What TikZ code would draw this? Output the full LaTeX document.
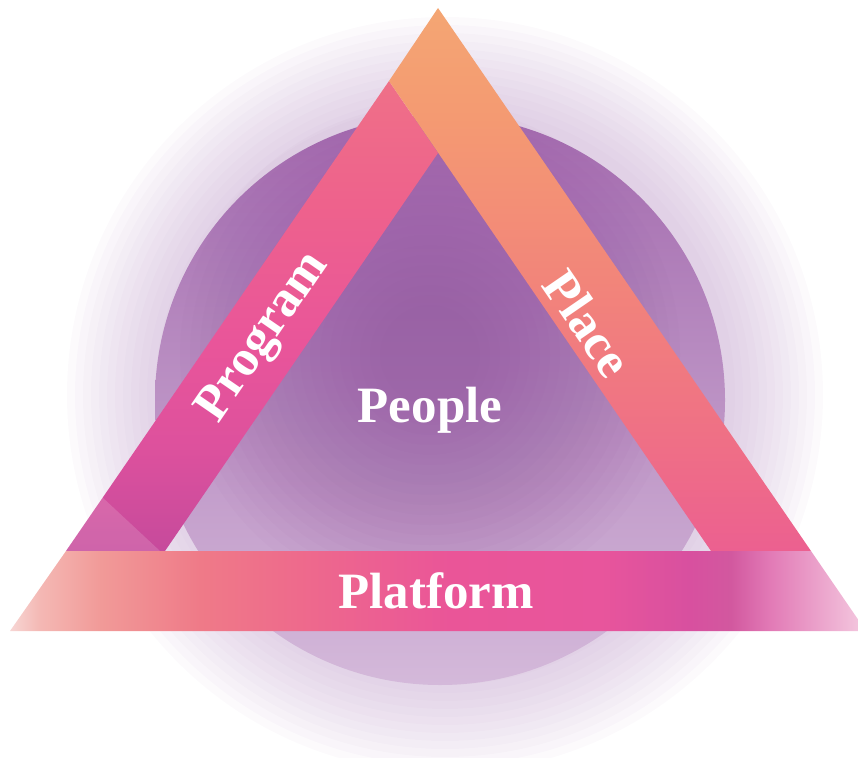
\documentclass[tikz,border=0pt]{standalone}
\usepackage{fontspec}
\setmainfont{Liberation Serif}
\usepackage{tikz}

\definecolor{blobdark}{HTML}{8A4A98}
\definecolor{blobtop}{HTML}{A36AAE}
\definecolor{blobmid}{HTML}{AD79B7}
\definecolor{blobpale}{HTML}{D4B9DA}
\definecolor{blobhaze}{HTML}{B690C2}
\definecolor{placedeep}{HTML}{EC6090}
\definecolor{placepink}{HTML}{EF6F86}
\definecolor{placesalmon}{HTML}{F2857A}
\definecolor{placepeach}{HTML}{F49A72}
\definecolor{placeorange}{HTML}{F4A673}
\definecolor{progbottom}{HTML}{C64A9C}
\definecolor{proglow}{HTML}{DD519D}
\definecolor{progmid}{HTML}{E9559A}
\definecolor{proghigh}{HTML}{EE628C}
\definecolor{progtop}{HTML}{EF7088}
\definecolor{platA}{HTML}{F7D6D4}
\definecolor{platB}{HTML}{F4B8B4}
\definecolor{platC}{HTML}{F19A98}
\definecolor{platD}{HTML}{EF7A88}
\definecolor{platE}{HTML}{EE6A8C}
\definecolor{platF}{HTML}{EA5598}
\definecolor{platG}{HTML}{E8559C}
\definecolor{platH}{HTML}{D8509F}
\definecolor{platI}{HTML}{D2589F}
\definecolor{platJ}{HTML}{E27AB6}
\definecolor{platK}{HTML}{F4CAE0}

\pgfdeclareverticalshading{placeshade}{100bp}{color(0bp)=(placedeep); color(25bp)=(placedeep); color(35bp)=(placepink); color(50bp)=(placesalmon); color(65bp)=(placepeach); color(75bp)=(placeorange); color(100bp)=(placeorange)}
\pgfdeclareverticalshading{programshade}{100bp}{color(0bp)=(progbottom); color(25bp)=(progbottom); color(36bp)=(proglow); color(47bp)=(progmid); color(62bp)=(proghigh); color(75bp)=(progtop); color(100bp)=(progtop)}
\pgfdeclarehorizontalshading{platformshade}{100bp}{color(0bp)=(platA); color(25bp)=(platA); color(26.75bp)=(platB); color(30.3bp)=(platC); color(36.1bp)=(platD); color(41.9bp)=(platE); color(50.7bp)=(platF); color(59.5bp)=(platG); color(64.7bp)=(platH); color(67.1bp)=(platI); color(69.4bp)=(platJ); color(75bp)=(platK); color(100bp)=(platK)}

\begin{document}
\begin{tikzpicture}[x=0.02cm, y=-0.02cm,
  tagtext/.style={text=white, inner sep=0pt, font=\fontsize{29}{29}\selectfont\bfseries}]
\useasboundingbox (0,0) rectangle (858,757);
\foreach \r in {290,298,...,380}
  \fill[blobhaze, fill opacity=0.045] (445,395) circle (\r);
\shade[top color=blobtop, middle color=blobmid, bottom color=blobpale] (440,400) circle (285);
\foreach \r in {50,60,...,250}
  \fill[blobdark, fill opacity=0.03] (430,355) circle (\r);
\shade[shading=programshade] (389,81) -- (66,551) -- (165,551) -- (438,153) -- cycle;
\shade[shading=placeshade] (438,8) -- (811,551) -- (711,551) -- (389,81) -- cycle;
\fill[white, fill opacity=0.15] (102,497) -- (160,551) -- (66,551) -- cycle;
\shade[shading=platformshade] (66,551) -- (811,551) -- (866,631) -- (10,631) -- cycle;
\node[tagtext, anchor=base] (people) at (430,422) {People};
\node[tagtext, anchor=base] (platform) at (436,608) {Platform};
\node[tagtext, rotate=55.5] (program) at (264,338) {Program};
\node[tagtext, rotate=-55.5] (place) at (588,323) {Place};
\end{tikzpicture}
\end{document}
